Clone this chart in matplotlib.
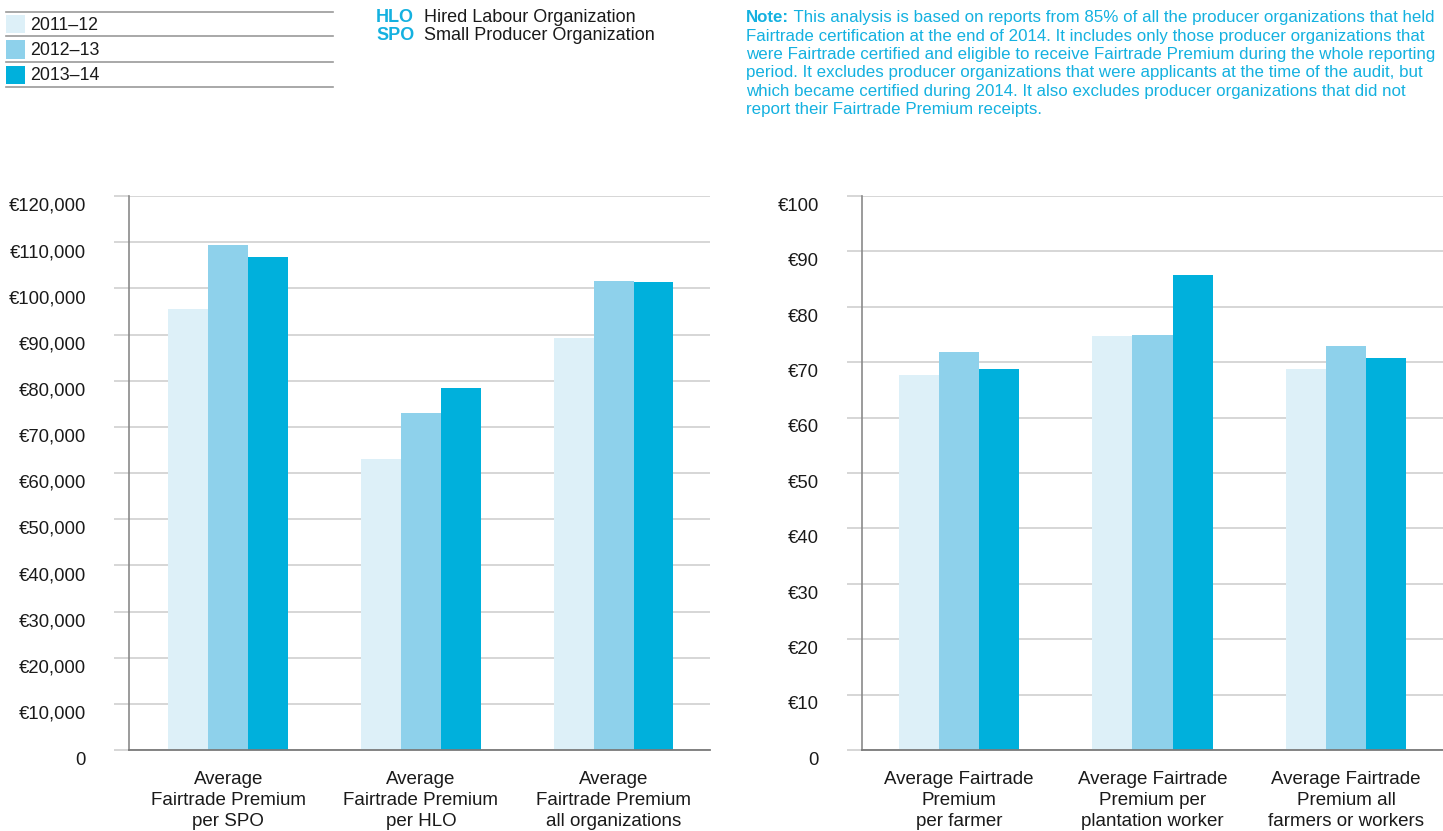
import matplotlib
matplotlib.use("Agg")
import matplotlib.pyplot as plt
from matplotlib.patches import Rectangle
from matplotlib.lines import Line2D
from matplotlib.transforms import ScaledTranslation
import numpy as np

plt.rcParams['font.family'] = ['Liberation Sans', 'DejaVu Sans']

# ---------------- data ----------------
seasons = ["2011\u201312", "2012\u201313", "2013\u201314"]
colors = ["#ddf0f8", "#8ed1eb", "#00b0dc"]

left_categories = ["Average\nFairtrade Premium\nper SPO",
                   "Average\nFairtrade Premium\nper HLO",
                   "Average\nFairtrade Premium\nall organizations"]
left_2011_12 = [95500, 63000, 89200]
left_2012_13 = [109400, 73000, 101600]
left_2013_14 = [106800, 78400, 101400]
left_ticks = [0, 10000, 20000, 30000, 40000, 50000, 60000,
              70000, 80000, 90000, 100000, 110000, 120000]
left_ticklabels = ["0", "\u20ac10,000", "\u20ac20,000", "\u20ac30,000", "\u20ac40,000",
                   "\u20ac50,000", "\u20ac60,000", "\u20ac70,000", "\u20ac80,000",
                   "\u20ac90,000", "\u20ac100,000", "\u20ac110,000", "\u20ac120,000"]

right_categories = ["Average Fairtrade\nPremium\nper farmer",
                    "Average Fairtrade\nPremium per\nplantation worker",
                    "Average Fairtrade\nPremium all\nfarmers or workers"]
right_2011_12 = [67.7, 74.7, 68.8]
right_2012_13 = [71.8, 74.9, 72.9]
right_2013_14 = [68.8, 85.7, 70.8]
right_ticks = [0, 10, 20, 30, 40, 50, 60, 70, 80, 90, 100]
right_ticklabels = ["0", "\u20ac10", "\u20ac20", "\u20ac30", "\u20ac40", "\u20ac50",
                    "\u20ac60", "\u20ac70", "\u20ac80", "\u20ac90", "\u20ac100"]

note_head = "Note:"
note_first = " This analysis is based on reports from 85% of all the producer organizations that held"
note_rest = ("Fairtrade certification at the end of 2014. It includes only those producer organizations that\n"
             "were Fairtrade certified and eligible to receive Fairtrade Premium during the whole reporting\n"
             "period. It excludes producer organizations that were applicants at the time of the audit, but\n"
             "which became certified during 2014. It also excludes producer organizations that did not\n"
             "report their Fairtrade Premium receipts.")
abbr = [("HLO", "Hired Labour Organization"), ("SPO", "Small Producer Organization")]

# ---------------- figure ----------------
W, H = 1443, 831
DPI = 100
fig = plt.figure(figsize=(W / DPI, H / DPI), dpi=DPI)
fig.patch.set_facecolor("white")

GRID = "#cfcfcf"
SPINE = "#8a8a8a"
ZERO = "#7a7a7a"
TEXT = "#1a1a1a"
BLUE = "#14b1e0"


def px(x0, y0, x1, y1):
    return [x0 / W, 1 - y1 / H, (x1 - x0) / W, (y1 - y0) / H]


def make_chart(rect, cats, s1, s2, s3, ticks, ticklabels, ymax, xleft):
    ax = fig.add_axes(rect)
    n = len(cats)
    x = np.arange(n)
    bw = 0.207
    for i, (vals, c) in enumerate(zip([s1, s2, s3], colors)):
        ax.bar(x + (i - 1) * bw, vals, width=bw, color=c, edgecolor="none", zorder=2)
    ax.set_xlim(xleft, n - 0.5)
    ax.set_ylim(0, ymax)
    ax.set_yticks(ticks)
    ax.set_yticklabels(ticklabels, fontsize=13.3, color=TEXT)
    ax.yaxis.grid(True, color=GRID, linewidth=1.2, zorder=0)
    ax.set_axisbelow(True)
    ax.tick_params(axis="y", length=11, width=1.2, color=GRID, pad=20)
    ticks_obj = ax.yaxis.get_major_ticks()
    ticks_obj[0].tick1line.set_color(ZERO)
    ticks_obj[-1].tick1line.set_color("#666666")
    off = ScaledTranslation(0, -6 / 72, fig.dpi_scale_trans)
    for lbl in ax.get_yticklabels():
        lbl.set_transform(lbl.get_transform() + off)
    ax.set_xticks(x)
    ax.set_xticklabels(cats, fontsize=13.5, color=TEXT, linespacing=1.31)
    ax.tick_params(axis="x", length=0, pad=15)
    for s in ["top", "right"]:
        ax.spines[s].set_visible(False)
    ax.spines["left"].set_color(SPINE)
    ax.spines["left"].set_linewidth(1.2)
    ax.spines["bottom"].set_color(ZERO)
    ax.spines["bottom"].set_linewidth(1.3)
    return ax


make_chart(px(129, 196, 710, 750), left_categories, left_2011_12, left_2012_13,
           left_2013_14, left_ticks, left_ticklabels, 120000, -0.515)
make_chart(px(862, 196, 1443, 750), right_categories, right_2011_12, right_2012_13,
           right_2013_14, right_ticks, right_ticklabels, 100, -0.5)

# ---------------- legend (top-left) ----------------
for yl in [12, 36, 62, 87]:
    fig.add_artist(Line2D([6 / W, 333 / W], [1 - yl / H, 1 - yl / H],
                          color="#9a9a9a", linewidth=1.2))
for (yt, yb), lab, c in zip([(15, 33), (40, 59), (66, 84)], seasons, colors):
    fig.add_artist(Rectangle((6 / W, 1 - yb / H), 19 / W, (yb - yt) / H,
                             facecolor=c, edgecolor="none"))
    fig.text(30 / W, 1 - ((yt + yb) / 2 + 1) / H, lab, fontsize=12.8, color=TEXT,
             va="center", ha="left")

# ---------------- abbreviations ----------------
for (a, full), yc in zip(abbr, [17, 36]):
    fig.text(376 / W, 1 - yc / H, a, fontsize=13, fontweight="bold", color=BLUE,
             va="center", ha="left")
    fig.text(424 / W, 1 - yc / H, full, fontsize=13, color=TEXT, va="center", ha="left")

# ---------------- note ----------------
NFS = 12.2
t1 = fig.text(746 / W, 1 - 17.5 / H, note_head, fontsize=NFS, fontweight="bold",
              color=BLUE, va="center", ha="left")
overlay = fig.add_axes([0, 0, 1, 1], facecolor="none")
overlay.axis("off")
overlay.annotate(note_first, xy=(1, 0.5), xycoords=t1, va="center", ha="left",
                 fontsize=NFS, color=BLUE)
fig.text(746 / W, 1 - 28.5 / H, note_rest, fontsize=NFS, color=BLUE, va="top",
         ha="left", linespacing=1.29)

fig.savefig("out.png", dpi=DPI, facecolor="white")
